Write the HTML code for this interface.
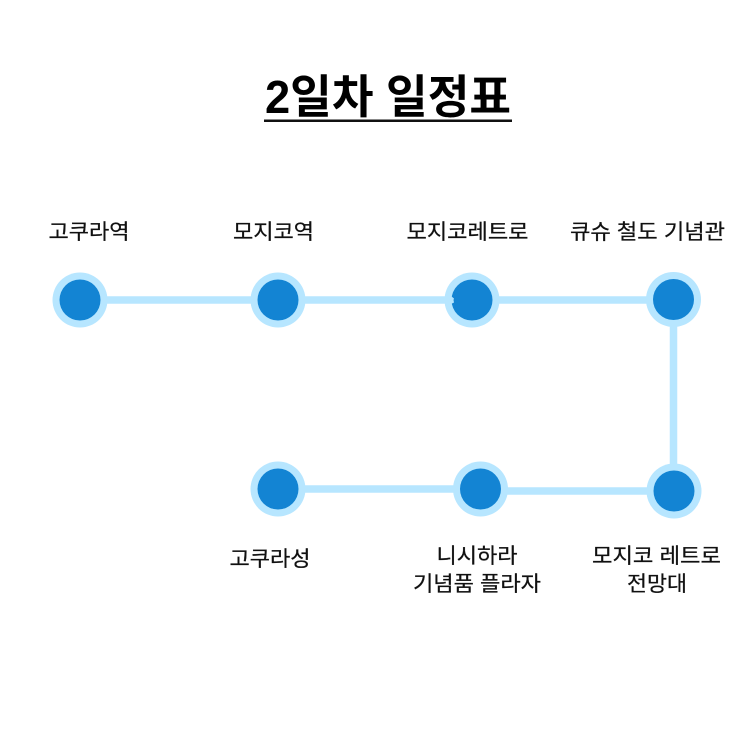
<!DOCTYPE html>
<html lang="ko">
<head>
<meta charset="utf-8">
<style>
html,body{margin:0;padding:0;background:#fff;}
svg{display:block;}
text{font-family:"Liberation Sans","Noto Sans CJK KR",sans-serif;fill:#111;}
.l{font-size:21px;text-anchor:middle;font-weight:400;stroke:#111;stroke-width:0.25px;}
</style>
</head>
<body>
<svg width="743" height="743" viewBox="0 0 743 743" xmlns="http://www.w3.org/2000/svg">
<rect width="743" height="743" fill="#fff"/>
<text x="388" y="113" text-anchor="middle" font-size="46" font-weight="700" textLength="246" lengthAdjust="spacingAndGlyphs" style="fill:#000">2일차 일정표</text>
<rect x="264" y="119.500" width="248" height="2.500" fill="#111"/>

<g stroke="#b7e6ff" stroke-width="7.500" fill="none">
<line x1="80" y1="300" x2="278" y2="300"/>
<line x1="278" y1="300" x2="472" y2="300"/>
<line x1="472" y1="300" x2="673" y2="300"/>
<line x1="673.500" y1="300" x2="673.500" y2="491"/>
<line x1="278" y1="489" x2="481" y2="489"/>
<line x1="481" y1="491" x2="674" y2="491"/>
</g>

<g fill="#b7e6ff">
<circle cx="80" cy="300" r="27.500"/>
<circle cx="278" cy="300" r="27.500"/>
<circle cx="472" cy="300" r="27.500"/>
<circle cx="673.500" cy="299.500" r="27.500"/>
<circle cx="278" cy="489" r="27.500"/>
<circle cx="480.500" cy="489" r="27.500"/>
<circle cx="674" cy="491" r="27.500"/>
</g>
<g fill="#1384d3">
<circle cx="80" cy="300" r="20.500"/>
<circle cx="278" cy="300" r="20.500"/>
<circle cx="472" cy="300" r="20.500"/>
<circle cx="673.500" cy="299.500" r="20.500"/>
<circle cx="278" cy="489" r="20.500"/>
<circle cx="480.500" cy="489" r="20.500"/>
<circle cx="674" cy="491" r="20.500"/>
</g>
<path d="M451 296 L454 298.500 L453.500 300 L454 302.500 L451 304 Z" fill="#b7e6ff"/>

<text class="l" x="89" y="239" textLength="81" lengthAdjust="spacingAndGlyphs">고쿠라역</text>
<text class="l" x="273.500" y="239" textLength="81" lengthAdjust="spacingAndGlyphs">모지코역</text>
<text class="l" x="467.500" y="239" textLength="122" lengthAdjust="spacingAndGlyphs">모지코레트로</text>
<text class="l" x="647.500" y="239" textLength="155" lengthAdjust="spacingAndGlyphs">큐슈 철도 기념관</text>

<text class="l" x="270" y="566" textLength="81" lengthAdjust="spacingAndGlyphs">고쿠라성</text>
<text class="l" x="477" y="563" textLength="81" lengthAdjust="spacingAndGlyphs">니시하라</text>
<text class="l" x="477" y="591" textLength="128" lengthAdjust="spacingAndGlyphs">기념품 플라자</text>
<text class="l" x="656.500" y="563" textLength="129" lengthAdjust="spacingAndGlyphs">모지코 레트로</text>
<text class="l" x="657" y="591" textLength="60" lengthAdjust="spacingAndGlyphs">전망대</text>
</svg>
</body>
</html>
